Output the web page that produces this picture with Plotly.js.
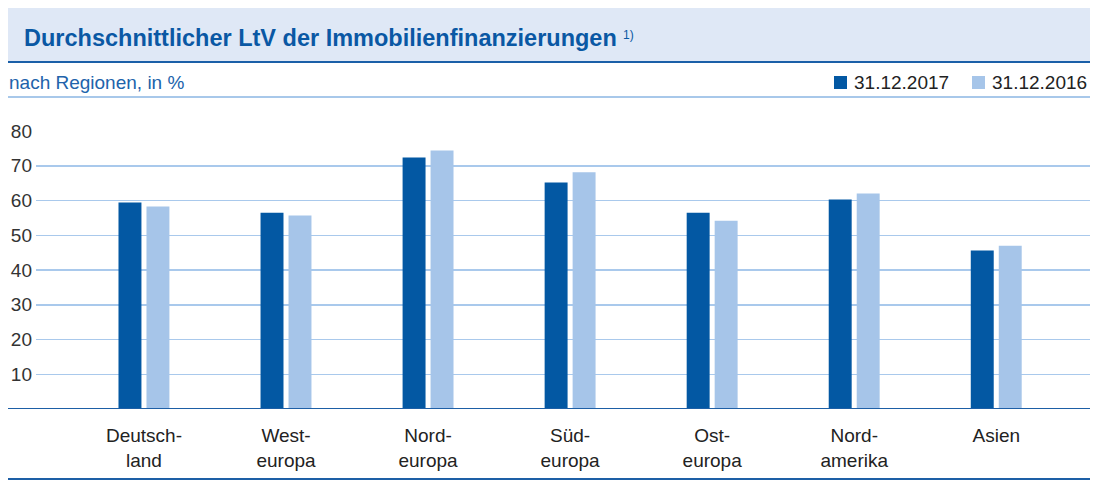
<!DOCTYPE html>
<html><head><meta charset="utf-8">
<script src="https://cdn.plot.ly/plotly-3.0.1.min.js"></script>
<style>html,body{margin:0;padding:0;background:#fff}#chart{width:1107px;height:484px}</style>
</head><body><div id="chart"></div>
<script>
// ---- data ----
const regions = ["Deutsch-<br>land","West-<br>europa","Nord-<br>europa","Süd-<br>europa","Ost-<br>europa","Nord-<br>amerika","Asien"];
const ltv2017 = [59.4, 56.5, 72.4, 65.2, 56.5, 60.3, 45.6];
const ltv2016 = [58.3, 55.7, 74.4, 68.1, 54.2, 62.0, 47.0];
const seriesNames = ["31.12.2017", "31.12.2016"];
const yTicks = [10, 20, 30, 40, 50, 60, 70, 80];
const titleText = "Durchschnittlicher LtV der Immobilienfinanzierungen";
const footnote = "1)";
const subtitleText = "nach Regionen, in %";

// ---- layout geometry ----
const W = 1107, H = 484;
const M = {l: 36, r: 17, t: 131, b: 75};
const pw = W - M.l - M.r, ph = H - M.t - M.b;
const px = x => (x - M.l) / pw;
const py = y => (H - M.b - y) / ph;

const dark = "#0358a3", light = "#a6c5e9";
const font = "'Liberation Sans', Arial, Helvetica, sans-serif";

const traces = [
  {type: "bar", x: regions, y: ltv2017, name: seriesNames[0], marker: {color: dark}, hoverinfo: "y"},
  {type: "bar", x: regions, y: ltv2016, name: seriesNames[1], marker: {color: light}, hoverinfo: "y"}
];

const shapes = [
  {type: "rect", xref: "paper", yref: "paper", x0: px(8), x1: px(1090), y0: py(62), y1: py(8), fillcolor: "#dfe8f6", line: {width: 0}, layer: "below"},
  {type: "line", xref: "paper", yref: "paper", x0: px(8), x1: px(1090), y0: py(62), y1: py(62), line: {color: "#1a5fa8", width: 2}},
  {type: "line", xref: "paper", yref: "paper", x0: px(8), x1: px(1090), y0: py(97), y1: py(97), line: {color: "#a8c8ea", width: 2}},
  {type: "line", xref: "paper", yref: "y", x0: px(8), x1: 1, y0: 0, y1: 0, line: {color: "#1d5fa6", width: 2}},
  {type: "line", xref: "paper", yref: "paper", x0: px(8), x1: px(1090), y0: py(479), y1: py(479), line: {color: "#1d5fa6", width: 2}},
  // legend swatches
  {type: "rect", xref: "paper", yref: "paper", x0: px(834), x1: px(847), y0: py(89), y1: py(76), fillcolor: dark, line: {width: 0}},
  {type: "rect", xref: "paper", yref: "paper", x0: px(972), x1: px(985), y0: py(89), y1: py(76), fillcolor: light, line: {width: 0}}
];

const annotations = [
  {xref: "paper", yref: "paper", x: px(22), y: py(38), xanchor: "left", yanchor: "middle", showarrow: false,
   text: "<b>" + titleText + "</b>", font: {family: font, size: 23.5, color: "#0a58a4"}},
  {xref: "paper", yref: "paper", x: px(621), y: py(35), xanchor: "left", yanchor: "middle", showarrow: false,
   text: footnote, font: {family: font, size: 12, color: "#0a58a4"}},
  {xref: "paper", yref: "paper", x: px(7), y: py(82), xanchor: "left", yanchor: "middle", showarrow: false,
   text: subtitleText, font: {family: font, size: 19, color: "#2163ab"}},
  {xref: "paper", yref: "paper", x: px(852), y: py(82.5), xanchor: "left", yanchor: "middle", showarrow: false,
   text: seriesNames[0], font: {family: font, size: 19, color: "#222"}},
  {xref: "paper", yref: "paper", x: px(990), y: py(82.5), xanchor: "left", yanchor: "middle", showarrow: false,
   text: seriesNames[1], font: {family: font, size: 19, color: "#222"}}
];

const layout = {
  width: W, height: H,
  margin: M,
  paper_bgcolor: "#fff", plot_bgcolor: "#fff",
  showlegend: false,
  barmode: "group", bargap: 0.606, bargroupgap: 0.18,
  font: {family: font, size: 19, color: "#333"},
  xaxis: {type: "category", range: [-0.76, 6.66], showgrid: false, zeroline: false, showline: false,
          ticks: "", ticklabelstandoff: 13, tickfont: {family: font, size: 19, color: "#222"}, fixedrange: true},
  yaxis: {range: [0, 80], tickvals: yTicks, ticktext: yTicks.map(String), showgrid: true, gridcolor: "#a9c9ec", gridwidth: 1.5,
          zeroline: false, showline: false, ticks: "", ticklabelstandoff: 3, tickfont: {family: font, size: 19, color: "#333"}, fixedrange: true},
  shapes: shapes,
  annotations: annotations
};

Plotly.newPlot("chart", traces, layout, {displayModeBar: false, staticPlot: true});
</script>
</body></html>
